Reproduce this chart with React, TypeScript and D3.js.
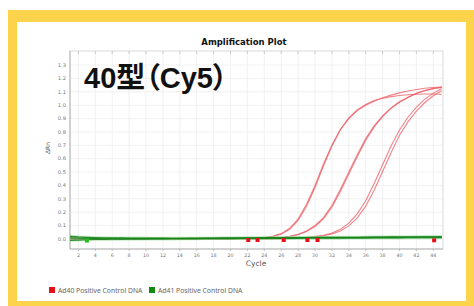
import React from "react";
import * as d3 from "d3";

// cycles 1..45
const cycles = d3.range(1, 46);

// Ad40 positive control DNA (red), one array per well
const ad40a = [0.004,0.003,0.002,0.002,0.001,0.001,0.000,0.000,0.001,0.000, 0.000,0.000,0.000,0.001,0.000,0.000,0.000,0.001,0.001,0.002, 0.003,0.004,0.006,0.010,0.020,0.040,0.080,0.150,0.260,0.400, 0.560,0.700,0.820,0.900,0.960,1.000,1.030,1.055,1.075,1.092, 1.106,1.117,1.126,1.132,1.136];
const ad40b = [0.003,0.003,0.002,0.001,0.001,0.000,0.000,0.001,0.000,0.000, 0.000,0.001,0.000,0.000,0.000,0.001,0.000,0.001,0.001,0.002, 0.002,0.003,0.005,0.009,0.018,0.036,0.072,0.138,0.245,0.385, 0.545,0.695,0.815,0.905,0.965,1.005,1.035,1.052,1.064,1.072, 1.078,1.082,1.084,1.084,1.082];
const ad40c = [0.002,0.002,0.001,0.001,0.000,0.000,0.000,0.001,0.000,0.000, 0.000,0.000,0.001,0.000,0.000,0.000,0.000,0.001,0.000,0.001, 0.001,0.002,0.002,0.003,0.005,0.010,0.020,0.035,0.060,0.100, 0.160,0.250,0.370,0.500,0.630,0.750,0.845,0.920,0.980,1.025, 1.060,1.090,1.110,1.125,1.135];
const ad40d = [0.002,0.001,0.001,0.000,0.000,0.000,0.001,0.000,0.000,0.000, 0.001,0.000,0.000,0.000,0.001,0.000,0.000,0.000,0.001,0.001, 0.001,0.001,0.002,0.003,0.004,0.009,0.018,0.032,0.055,0.093, 0.150,0.237,0.355,0.485,0.615,0.738,0.838,0.915,0.976,1.022, 1.058,1.088,1.109,1.124,1.134];
const ad40e = [0.001,0.001,0.000,0.000,0.000,0.001,0.000,0.000,0.000,0.000, 0.000,0.000,0.000,0.001,0.000,0.000,0.000,0.000,0.001,0.000, 0.000,0.001,0.001,0.001,0.002,0.002,0.003,0.005,0.010,0.018, 0.028,0.045,0.072,0.118,0.188,0.285,0.415,0.555,0.695,0.815, 0.910,0.985,1.045,1.090,1.125];
const ad40f = [0.001,0.000,0.000,0.000,0.001,0.000,0.000,0.000,0.000,0.001, 0.000,0.000,0.000,0.000,0.000,0.001,0.000,0.000,0.000,0.001, 0.000,0.000,0.001,0.001,0.001,0.002,0.002,0.004,0.008,0.015, 0.024,0.038,0.060,0.098,0.158,0.245,0.365,0.505,0.645,0.775, 0.875,0.955,1.020,1.070,1.110];

// Ad41 positive control DNA (green), flat near zero
const ad41a = [0.020,0.015,0.012,0.010,0.009,0.008,0.008,0.007,0.007,0.006, 0.006,0.006,0.005,0.005,0.006,0.006,0.007,0.007,0.008,0.008, 0.008,0.009,0.009,0.010,0.010,0.010,0.011,0.011,0.011,0.012, 0.012,0.012,0.013,0.013,0.013,0.014,0.014,0.014,0.015,0.015, 0.015,0.016,0.016,0.016,0.017];
const ad41b = [-0.010,-0.008,-0.006,-0.004,-0.003,-0.002,-0.001,0.000,0.000,0.001, 0.001,0.001,0.002,0.002,0.002,0.002,0.003,0.003,0.003,0.003, 0.004,0.004,0.004,0.004,0.005,0.005,0.005,0.005,0.006,0.006, 0.006,0.006,0.007,0.007,0.007,0.007,0.008,0.008,0.008,0.008, 0.009,0.009,0.009,0.009,0.010];
const ad41c = [0.008,0.006,0.004,0.003,0.002,0.002,0.001,0.001,0.001,0.001, 0.002,0.002,0.002,0.003,0.003,0.003,0.004,0.004,0.005,0.005, 0.005,0.006,0.006,0.007,0.007,0.008,0.008,0.008,0.009,0.009, 0.010,0.010,0.010,0.011,0.011,0.011,0.012,0.012,0.012,0.013, 0.013,0.013,0.014,0.014,0.014];

const ad40Series = [ad40a, ad40b, ad40c, ad40d, ad40e, ad40f];
const ad41Series = [ad41a, ad41b, ad41c];

// baseline markers (cycle, value)
const ad40Marks = [[22.1, -0.008], [23.2, -0.008], [26.3, -0.008], [29.1, -0.008], [30.3, -0.008], [44.1, -0.01]];
const ad41Marks = [[3.0, -0.012]];

const yTicks = d3.range(0, 14).map((d) => d / 10);
const xTicks = d3.range(2, 45, 2);

const legendItems = ["Ad40 Positive Control DNA", "Ad41 Positive Control DNA"];
const legendColors = ["#e8101a", "#128a12"];

export default function App() {
  const x = d3.scaleLinear().domain([1, 45.15]).range([70, 443]);
  const y = d3.scaleLinear().domain([-0.075, 1.405]).range([249, 51]);
  const line = d3.line<number>().x((d, i) => x(cycles[i])).y((d) => y(d));

  const sans = "'DejaVu Sans', sans-serif";

  return (
    <svg width={474} height={306} style={{ position: "absolute", left: 0, top: 0 }}>
      <rect x={0} y={0} width={474} height={306} fill="#fff" />
      <rect x={8} y={10} width={466} height={296} fill="#fed34c" />
      <rect x={17} y={22} width={449} height={279} fill="#fff" />

      <text x={244} y={45} textAnchor="middle" fontFamily={sans} fontWeight="bold" fontSize={8.5} fill="#111">
        Amplification Plot
      </text>

      {/* grid */}
      {yTicks.map((t) => (
        <line key={"gy" + t} x1={70} x2={443} y1={y(t)} y2={y(t)} stroke="#ededed" strokeWidth={0.8} />
      ))}
      {xTicks.map((t) => (
        <line key={"gx" + t} x1={x(t)} x2={x(t)} y1={51} y2={249} stroke="#ededed" strokeWidth={0.8} />
      ))}
      <rect x={70} y={51} width={373} height={198} fill="none" stroke="#cfcfcf" strokeWidth={0.8} />
      {xTicks.map((t) => (
        <line key={"tt" + t} x1={x(t)} x2={x(t)} y1={51} y2={54} stroke="#bbb" strokeWidth={0.7} />
      ))}
      <line x1={70} x2={70} y1={51} y2={249} stroke="#aaa" strokeWidth={0.8} />
      <line x1={70} x2={443} y1={249} y2={249} stroke="#aaa" strokeWidth={0.8} />

      {/* axes labels */}
      {yTicks.map((t) => (
        <text key={"yl" + t} x={66} y={y(t) + 1.8} textAnchor="end" fontFamily={sans} fontSize={5.2} fill="#777">
          {d3.format(".1f")(t)}
        </text>
      ))}
      {xTicks.map((t) => (
        <g key={"xl" + t}>
          <line x1={x(t)} x2={x(t)} y1={249} y2={251} stroke="#aaa" strokeWidth={0.7} />
          <text x={x(t)} y={257} textAnchor="middle" fontFamily={sans} fontSize={4.8} fill="#777">
            {t}
          </text>
        </g>
      ))}
      <text transform="translate(50,148) rotate(-90)" textAnchor="middle" fontFamily={sans} fontSize={6} fill="#666">
        ΔRn
      </text>
      <text x={256} y={266} textAnchor="middle" fontFamily={sans} fontSize={7.5} fill="#555">
        Cycle
      </text>

      {/* curves */}
      {ad40Series.map((s, i) => (
        <path key={"r" + i} d={line(s) || ""} fill="none" stroke="#ec5a62" strokeOpacity={0.75} strokeWidth={1.1} />
      ))}
      {ad41Series.map((s, i) => (
        <path key={"gh" + i} d={line(s) || ""} fill="none" stroke="#8fd88f" strokeOpacity={0.5} strokeWidth={3} />
      ))}
      {ad41Series.map((s, i) => (
        <path key={"g" + i} d={line(s) || ""} fill="none" stroke="#15801a" strokeOpacity={0.85} strokeWidth={1.2} />
      ))}
      {ad40Marks.map(([c, v], i) => (
        <rect key={"rm" + i} x={x(c) - 2} y={y(v) - 2} width={4} height={4} fill="#e8101a" />
      ))}
      {ad41Marks.map(([c, v], i) => (
        <rect key={"gm" + i} x={x(c) - 2} y={y(v) - 2} width={4} height={4} fill="#22c022" />
      ))}

      {/* overlay label */}
      <text x={84} y={88} fontFamily="'Liberation Sans', 'Noto Sans CJK JP', sans-serif" fontWeight="bold" fontSize={29}
        fill="#111" style={{ fontFeatureSettings: "'palt'" }}>
        40型（Cy5）
      </text>

      {/* legend */}
      {legendItems.map((name, i) => (
        <g key={name} transform={`translate(${49 + i * 100},287)`}>
          <rect x={0} y={0} width={6} height={6} fill={legendColors[i]} />
          <text x={9} y={5.5} fontFamily="'Noto Sans', sans-serif" fontSize={6.8} fill="#666">
            {name}
          </text>
        </g>
      ))}
    </svg>
  );
}
